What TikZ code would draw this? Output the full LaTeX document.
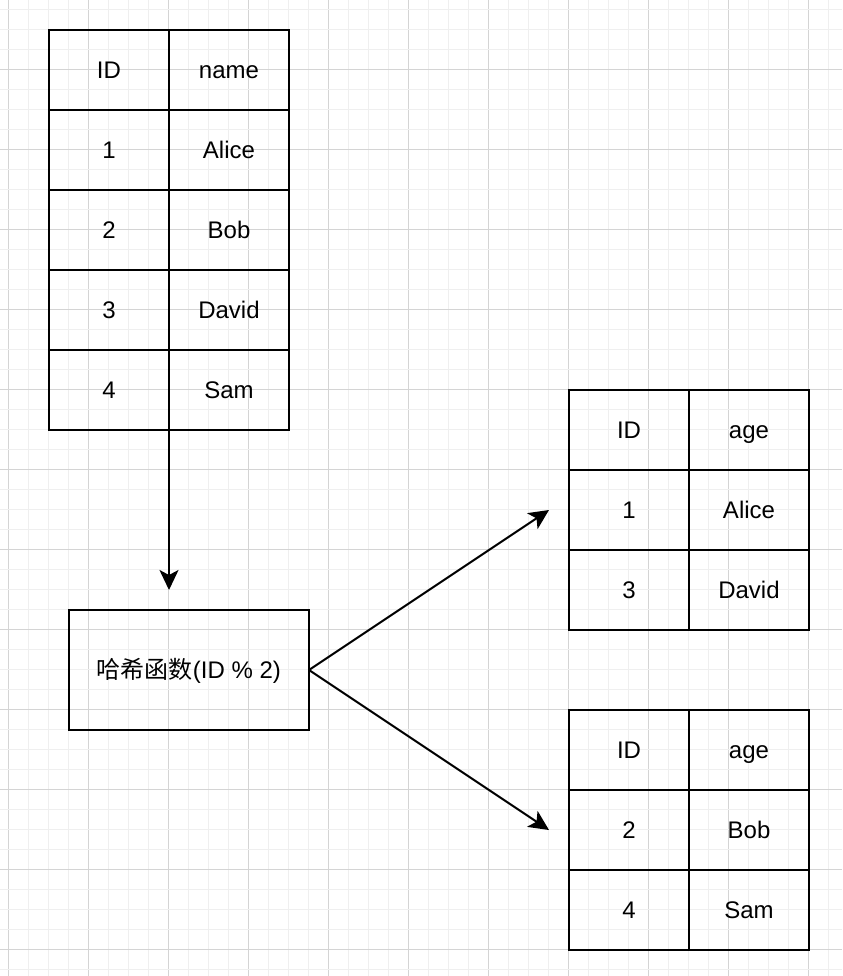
\documentclass[tikz,border=0pt]{standalone}
\usepackage{fontspec}
\setmainfont{Liberation Sans}
\newfontfamily\cjk{Noto Sans CJK SC}
\usetikzlibrary{arrows.meta}
\definecolor{gridminor}{HTML}{EFEFEF}
\definecolor{gridmajor}{HTML}{D4D4D4}
\tikzset{
  cell/.style={draw=black, line width=1pt, minimum width=60pt, minimum height=40pt, inner sep=0pt, outer sep=0pt, text height=8.6pt, text depth=0pt, font=\fontsize{12pt}{14pt}\selectfont},
  hashbox/.style={draw=black, line width=1pt, minimum width=120pt, minimum height=60pt, inner sep=0pt, outer sep=0pt, text height=8.6pt, text depth=0pt, font=\fontsize{12pt}{14pt}\selectfont},
  link/.style={line width=1pt, -{Stealth[length=10pt, width=9.5pt, inset=2.5pt]}},
}
\begin{document}
\begin{tikzpicture}[x=0.5pt, y=-0.5pt]
\fill[white] (0,0) rectangle (842,976);
\useasboundingbox (0,0) rectangle (842,976);
\begin{scope}
\clip (0,0) rectangle (842,976);
\foreach \i in {0,...,41} {
  \pgfmathtruncatemacro{\xx}{8+20*\i}
  \pgfmathtruncatemacro{\mm}{mod(\i,4)}
  \ifnum\mm=0
    \draw[gridmajor, line width=0.5pt] (\xx,0) -- (\xx,976);
  \else
    \draw[gridminor, line width=0.5pt] (\xx,0) -- (\xx,976);
  \fi
}
\foreach \j in {0,...,48} {
  \pgfmathtruncatemacro{\yy}{9+20*\j}
  \pgfmathtruncatemacro{\mm}{mod(\j+1,4)}
  \ifnum\mm=0
    \draw[gridmajor, line width=0.5pt] (0,\yy) -- (842,\yy);
  \else
    \draw[gridminor, line width=0.5pt] (0,\yy) -- (842,\yy);
  \fi
}
\end{scope}
% Table 1
\node[cell] (a11) at (109,70) {ID};
\node[cell] (a12) at (229,70) {name};
\node[cell] (a21) at (109,150) {1};
\node[cell] (a22) at (229,150) {Alice};
\node[cell] (a31) at (109,230) {2};
\node[cell] (a32) at (229,230) {Bob};
\node[cell] (a41) at (109,310) {3};
\node[cell] (a42) at (229,310) {David};
\node[cell] (a51) at (109,390) {4};
\node[cell] (a52) at (229,390) {Sam};
% Table 2
\node[cell] (b11) at (629,430) {ID};
\node[cell] (b12) at (749,430) {age};
\node[cell] (b21) at (629,510) {1};
\node[cell] (b22) at (749,510) {Alice};
\node[cell] (b31) at (629,590) {3};
\node[cell] (b32) at (749,590) {David};
% Table 3
\node[cell] (c11) at (629,750) {ID};
\node[cell] (c12) at (749,750) {age};
\node[cell] (c21) at (629,830) {2};
\node[cell] (c22) at (749,830) {Bob};
\node[cell] (c31) at (629,910) {4};
\node[cell] (c32) at (749,910) {Sam};
% Hash function
\node[hashbox] (hash) at (189,670) {{\cjk 哈希函数}(ID \% 2)};
% arrow targets
\coordinate (hin) at (169,590);
\coordinate (t2in) at (549,510);
\coordinate (t3in) at (549,830);
\draw[link] (a51.south east) -- (hin);
\draw[link] (hash.east) -- (t2in);
\draw[link] (hash.east) -- (t3in);
\end{tikzpicture}
\end{document}
